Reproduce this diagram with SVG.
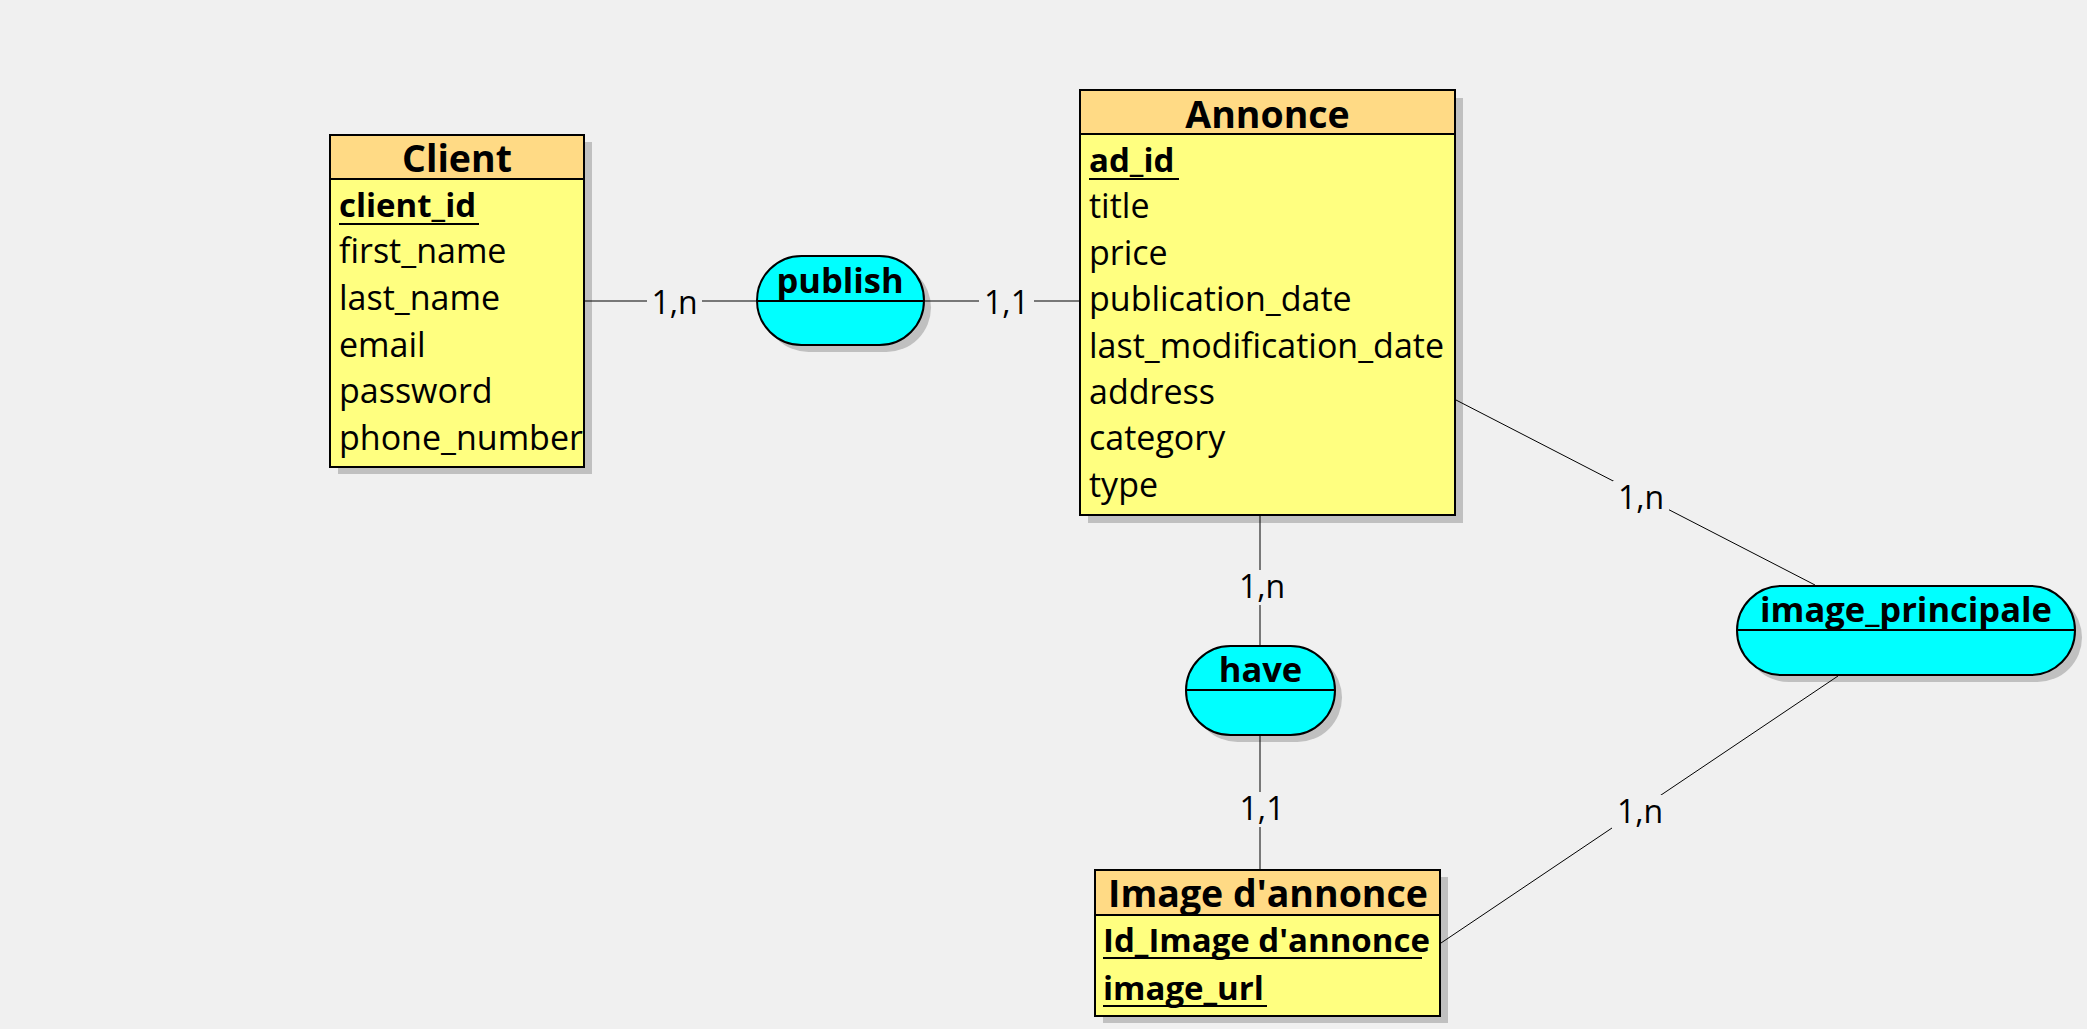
<svg xmlns="http://www.w3.org/2000/svg" width="2087" height="1029" viewBox="0 0 2087 1029">
<style>
.bg{fill:#f0f0f0}
.shadow{fill:#c0c0c0}
.head{fill:#ffda85;stroke:none}
.body{fill:#ffff80;stroke:none}
.frame{fill:none;stroke:#000;stroke-width:2}
.sep{stroke:#000;stroke-width:2}
.rel{fill:#00ffff;stroke:#000;stroke-width:2}
.conn{stroke:#000;stroke-width:1;fill:none}
.lblbg{fill:#f0f0f0}
text{font-family:"Open Sans","Noto Sans","Liberation Sans",sans-serif;fill:#000}
.title{font-size:37.5px;font-weight:bold;text-anchor:middle}
.attr{font-size:34px}
.key{font-size:33px;font-weight:bold}
.ul{stroke:#000;stroke-width:2}
.rname{font-size:34.5px;font-weight:bold;text-anchor:middle}
.card{font-size:32px;text-anchor:middle}
</style>
<rect class="bg" x="0" y="0" width="2087" height="1029"/>

<g id="client">
  <rect class="shadow" x="338" y="142" width="254" height="332"/>
  <rect class="head" x="330" y="135" width="254" height="44"/>
  <rect class="body" x="330" y="179" width="254" height="288"/>
  <rect class="frame" x="330" y="135" width="254" height="332"/>
  <line class="sep" x1="330" y1="179" x2="584" y2="179"/>
  <text class="title" x="457" y="172">Client</text>
  <text class="key" x="339" y="217">client_id</text>
  <line class="ul" x1="339" y1="224" x2="479" y2="224"/>
  <text class="attr" x="339" y="263">first_name</text>
  <text class="attr" x="339" y="310">last_name</text>
  <text class="attr" x="339" y="357">email</text>
  <text class="attr" x="339" y="403">password</text>
  <text class="attr" x="339" y="450">phone_number</text>
</g>

<g id="annonce">
  <rect class="shadow" x="1088" y="98" width="375" height="425"/>
  <rect class="head" x="1080" y="90" width="375" height="44"/>
  <rect class="body" x="1080" y="134" width="375" height="381"/>
  <rect class="frame" x="1080" y="90" width="375" height="425"/>
  <line class="sep" x1="1080" y1="134" x2="1455" y2="134"/>
  <text class="title" x="1267.5" y="128">Annonce</text>
  <text class="key" x="1089" y="172">ad_id</text>
  <line class="ul" x1="1089" y1="179" x2="1179" y2="179"/>
  <text class="attr" x="1089" y="218">title</text>
  <text class="attr" x="1089" y="265">price</text>
  <text class="attr" x="1089" y="311">publication_date</text>
  <text class="attr" x="1089" y="358">last_modification_date</text>
  <text class="attr" x="1089" y="404">address</text>
  <text class="attr" x="1089" y="450">category</text>
  <text class="attr" x="1089" y="497">type</text>
</g>

<g id="image_annonce">
  <rect class="shadow" x="1103" y="877" width="345" height="146"/>
  <rect class="head" x="1095" y="870" width="345" height="45"/>
  <rect class="body" x="1095" y="915" width="345" height="101"/>
  <rect class="frame" x="1095" y="870" width="345" height="146"/>
  <line class="sep" x1="1095" y1="915" x2="1440" y2="915"/>
  <text class="title" x="1268" y="907">Image d'annonce</text>
  <text class="key" x="1103" y="952">Id_Image d'annonce</text>
  <line class="ul" x1="1103" y1="958" x2="1422" y2="958"/>
  <text class="key" x="1103" y="1000">image_url</text>
  <line class="ul" x1="1103" y1="1006" x2="1267" y2="1006"/>
</g>

<g id="publish">
  <rect class="shadow" x="764" y="263" width="167" height="89" rx="44.5"/>
  <rect class="rel" x="757" y="256" width="167" height="89" rx="44.5"/>
  <line class="sep" x1="757" y1="301" x2="924" y2="301"/>
  <text class="rname" x="840" y="293">publish</text>
</g>

<g id="have">
  <rect class="shadow" x="1193" y="653" width="149" height="89" rx="44.5"/>
  <rect class="rel" x="1186" y="646" width="149" height="89" rx="44.5"/>
  <line class="sep" x1="1186" y1="690" x2="1335" y2="690"/>
  <text class="rname" x="1260.5" y="682">have</text>
</g>

<g id="image_principale">
  <rect class="shadow" x="1744" y="593" width="338" height="89" rx="44.5"/>
  <rect class="rel" x="1737" y="586" width="338" height="89" rx="44.5"/>
  <line class="sep" x1="1737" y1="630" x2="2075" y2="630"/>
  <text class="rname" x="1906" y="622">image_principale</text>
</g>

<g id="connectors">
  <line class="conn" x1="585" y1="301" x2="756" y2="301"/>
  <line class="conn" x1="925" y1="301" x2="1079" y2="301"/>
  <line class="conn" x1="1260" y1="516" x2="1260" y2="645"/>
  <line class="conn" x1="1260" y1="736" x2="1260" y2="869"/>
  <line class="conn" x1="1456" y1="400" x2="1815" y2="585"/>
  <line class="conn" x1="1441" y1="943" x2="1838" y2="676"/>
  <g id="cardinalities">
    <rect class="lblbg" x="647" y="286" width="55" height="35"/>
    <text class="card" x="674.5" y="314">1,n</text>
    <rect class="lblbg" x="979" y="286" width="55" height="35"/>
    <text class="card" x="1006.5" y="314">1,1</text>
    <rect class="lblbg" x="1234" y="570" width="56" height="35"/>
    <text class="card" x="1262" y="598">1,n</text>
    <rect class="lblbg" x="1234" y="792" width="56" height="35"/>
    <text class="card" x="1262" y="820">1,1</text>
    <rect class="lblbg" x="1613" y="481" width="56" height="35"/>
    <text class="card" x="1641" y="509">1,n</text>
    <rect class="lblbg" x="1612" y="795" width="56" height="35"/>
    <text class="card" x="1640" y="823">1,n</text>
  </g>
</g>
</svg>
